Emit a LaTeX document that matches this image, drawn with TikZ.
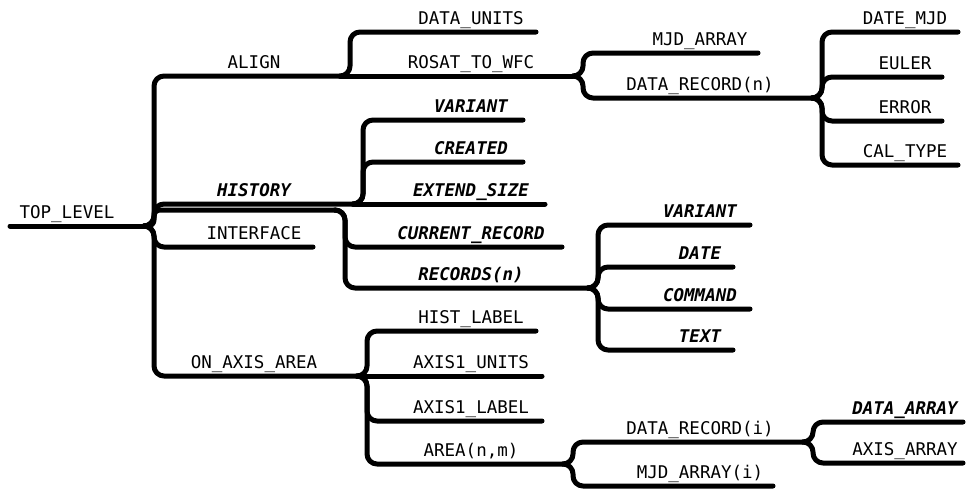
\documentclass[tikz,border=0pt]{standalone}
\usepackage{fontspec}
\setmainfont{DejaVu Sans Mono}[BoldFont={DejaVu Sans Mono Bold},ItalicFont={DejaVu Sans Mono Oblique},BoldItalicFont={DejaVu Sans Mono Bold Oblique}]
\usepackage{tikz}

\begin{document}
\begin{tikzpicture}[y=-1pt,x=1pt,
	wire/.style={line width=5pt, line cap=round, line join=round, rounded corners=10pt},
	lbl/.style={anchor=base, yshift=8pt, inner sep=0pt, font=\fontsize{17.5}{20}\selectfont},
	hot/.style={lbl, font=\fontsize{17.5}{20}\selectfont\bfseries\itshape}]
	\useasboundingbox (0,0) rectangle (968,488);

	\coordinate (c0) at (67,0);
	\coordinate (c1) at (254,0);
	\coordinate (c2) at (471,0);
	\coordinate (c3) at (700,0);
	\coordinate (c4) at (905,0);

	\coordinate (start) at (10,226);
	\coordinate (top) at (144,226);
	\coordinate (align) at (340,76);
	\coordinate (units) at (536,32);
	\coordinate (rosat) at (573,76);
	\coordinate (mjd) at (758,53);
	\coordinate (recn) at (812,98);
	\coordinate (datemjd) at (958,32);
	\coordinate (euler) at (942,77);
	\coordinate (error) at (942,121);
	\coordinate (caltype) at (958,165);
	\coordinate (hist) at (353,204);
	\coordinate (histlow) at (335,210);
	\coordinate (variant) at (523,120);
	\coordinate (created) at (523,162);
	\coordinate (extend) at (545,204);
	\coordinate (current) at (562,247);
	\coordinate (records) at (588,288);
	\coordinate (rvariant) at (750,225);
	\coordinate (rdate) at (733,267);
	\coordinate (rcommand) at (750,309);
	\coordinate (rtext) at (733,350);
	\coordinate (iface) at (313,247);
	\coordinate (onaxis) at (357,376);
	\coordinate (histlabel) at (536,331);
	\coordinate (axunits) at (542,376);
	\coordinate (axlabel) at (542,421);
	\coordinate (area) at (563,464);
	\coordinate (reci) at (803,442);
	\coordinate (mjdi) at (773,486);
	\coordinate (dataarr) at (963,422);
	\coordinate (axisarr) at (963,463);

	\draw[wire] (start) -- (top);
	\foreach \c in {align,hist,iface,onaxis} \draw[wire] (top) -- ++(10,0) |- (\c);
	\draw[wire,rounded corners=6pt] (top) -- ++(10,0) |- (histlow);

	\draw[wire] (align) -- ++(10,0) |- (units);
	\draw[wire] (align) -- (rosat);
	\foreach \c in {mjd,recn} \draw[wire] (rosat) -- ++(10,0) |- (\c);
	\foreach \c in {datemjd,euler,error,caltype} \draw[wire] (recn) -- ++(10,0) |- (\c);

	\foreach \c in {variant,created} \draw[wire] (hist) -- ++(10,0) |- (\c);
	\draw[wire] (hist) -- (extend);
	\foreach \c in {current,records} \draw[wire] (histlow) -- ++(10,0) |- (\c);
	\foreach \c in {rvariant,rdate,rcommand,rtext} \draw[wire] (records) -- ++(10,0) |- (\c);

	\foreach \c in {histlabel,axlabel,area} \draw[wire] (onaxis) -- ++(10,0) |- (\c);
	\draw[wire] (onaxis) -- (axunits);
	\foreach \c in {reci,mjdi} \draw[wire] (area) -- ++(10,0) |- (\c);
	\foreach \c in {dataarr,axisarr} \draw[wire] (reci) -- ++(10,0) |- (\c);

	\node[lbl] (t-top) at (c0 |- start) {TOP\_LEVEL};
	\node[lbl] (t-align) at (c1 |- align) {ALIGN};
	\node[hot] (t-hist) at (c1 |- hist) {HISTORY};
	\node[lbl] (t-iface) at (c1 |- iface) {INTERFACE};
	\node[lbl] (t-onaxis) at (c1 |- onaxis) {ON\_AXIS\_AREA};

	\node[lbl] (t-units) at (c2 |- units) {DATA\_UNITS};
	\node[lbl] (t-rosat) at (c2 |- rosat) {ROSAT\_TO\_WFC};
	\node[hot] (t-variant) at (c2 |- variant) {VARIANT};
	\node[hot] (t-created) at (c2 |- created) {CREATED};
	\node[hot] (t-extend) at (c2 |- extend) {EXTEND\_SIZE};
	\node[hot] (t-current) at (c2 |- current) {CURRENT\_RECORD};
	\node[hot] (t-records) at (c2 |- records) {RECORDS(n)};
	\node[lbl] (t-histlabel) at (c2 |- histlabel) {HIST\_LABEL};
	\node[lbl] (t-axunits) at (c2 |- axunits) {AXIS1\_UNITS};
	\node[lbl] (t-axlabel) at (c2 |- axlabel) {AXIS1\_LABEL};
	\node[lbl] (t-area) at (c2 |- area) {AREA(n,m)};

	\node[lbl] (t-mjd) at (c3 |- mjd) {MJD\_ARRAY};
	\node[lbl] (t-recn) at (c3 |- recn) {DATA\_RECORD(n)};
	\node[hot] (t-rvariant) at (c3 |- rvariant) {VARIANT};
	\node[hot] (t-rdate) at (c3 |- rdate) {DATE};
	\node[hot] (t-rcommand) at (c3 |- rcommand) {COMMAND};
	\node[hot] (t-rtext) at (c3 |- rtext) {TEXT};
	\node[lbl] (t-reci) at (c3 |- reci) {DATA\_RECORD(i)};
	\node[lbl] (t-mjdi) at (c3 |- mjdi) {MJD\_ARRAY(i)};

	\node[lbl] (t-datemjd) at (c4 |- datemjd) {DATE\_MJD};
	\node[lbl] (t-euler) at (c4 |- euler) {EULER};
	\node[lbl] (t-error) at (c4 |- error) {ERROR};
	\node[lbl] (t-caltype) at (c4 |- caltype) {CAL\_TYPE};
	\node[hot] (t-dataarr) at (c4 |- dataarr) {DATA\_ARRAY};
	\node[lbl] (t-axisarr) at (c4 |- axisarr) {AXIS\_ARRAY};
\end{tikzpicture}
\end{document}
